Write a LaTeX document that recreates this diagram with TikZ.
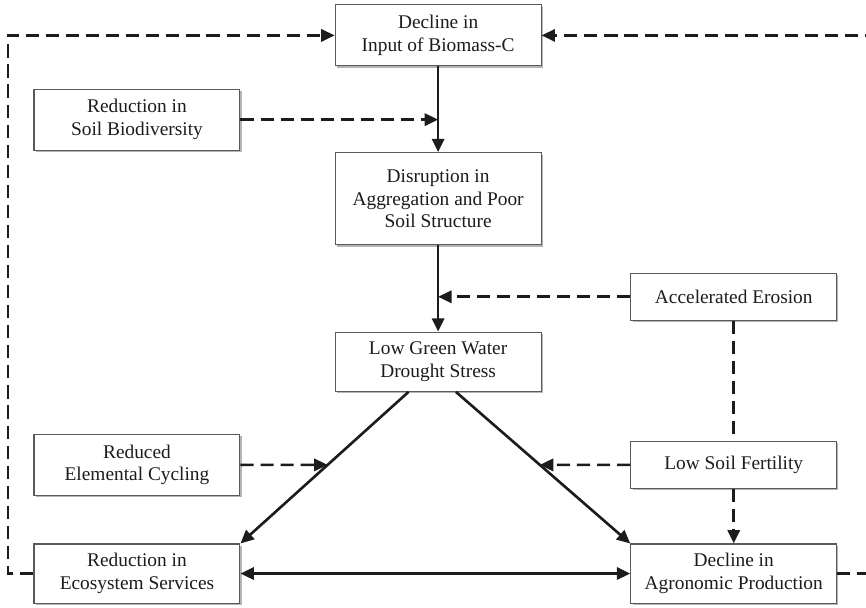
\documentclass[tikz,border=0pt]{standalone}
\usepackage{fontspec}
\setmainfont{Liberation Serif}
\usetikzlibrary{calc,positioning,arrows.meta,shadows,intersections}
\definecolor{ink}{HTML}{1C1C1C}
\definecolor{rim}{HTML}{5A5A5A}
\definecolor{shade}{HTML}{B4B4B4}
\tikzset{
  cbx/.style={draw=rim,line width=0.8pt,fill=white,text=ink,align=center,minimum width=5.23cm,minimum height=#1,
    general shadow={fill=shade,shadow xshift=1.3pt,shadow yshift=-1.3pt}},
  flow/.style={-{Triangle[length=3.4mm,width=3.1mm]},ink,line width=1.9pt},
  flow2/.style={{Triangle[length=3.4mm,width=3.1mm]}-{Triangle[length=3.4mm,width=3.1mm]},ink,line width=1.9pt},
  dflow/.style={-{Triangle[length=3.4mm,width=3.1mm]},ink,line width=1.9pt,dash pattern=on 9.5pt off 5pt},
  dline/.style={ink,line width=1.9pt,dash pattern=on 9.5pt off 5pt},
}

\begin{document}
\begin{tikzpicture}[font=\fontsize{14}{16.5}\selectfont]
\useasboundingbox (0,0) rectangle (22,15.44);
\node[cbx=1.55cm] (top) at (11.13,14.54) {Decline in\\Input of Biomass-C};
\node[cbx=1.55cm] (bio) at (3.48,12.40)  {Reduction in\\Soil Biodiversity};
\node[cbx=2.34cm] (dis) at (11.13,10.39) {Disruption in\\Aggregation and Poor\\Soil Structure};
\node[cbx=1.50cm] (low) at (11.13,6.25)  {Low Green Water\\Drought Stress};
\node[cbx=1.19cm] (ero) at (18.64,7.90)  {Accelerated Erosion};
\node[cbx=1.55cm] (cyc) at (3.48,3.63)   {Reduced\\Elemental Cycling};
\node[cbx=1.19cm] (fert) at (18.64,3.63) {Low Soil Fertility};
\node[cbx=1.50cm] (eco) at (3.48,0.87)   {Reduction in\\Ecosystem Services};
\node[cbx=1.50cm] (agro) at (18.64,0.87) {Decline in\\Agronomic Production};
\coordinate (lft) at (0.2,0);
\coordinate (rgt) at (22.6,0);
\coordinate (dl) at ([xshift=-0.75cm]low.south);
\coordinate (dr) at ([xshift=0.45cm]low.south);
\coordinate (j1) at (bio -| top);
\coordinate (j2) at (ero -| dis);
\path[name path=ld] (dl) -- (eco.north east);
\path[name path=rd] (dr) -- (agro.north west);
\path[name path=hz] (cyc) -- (fert);
\path[name intersections={of=ld and hz,by=j3}];
\path[name intersections={of=rd and hz,by=j4}];
% main chain
\draw[flow] (top) -- (dis);
\draw[flow] (dis) -- (low);
\draw[flow] (dl) -- (eco.north east);
\draw[flow] (dr) -- (agro.north west);
\draw[flow2] (eco) -- (agro);
% side influences
\draw[dflow] (bio) -- (j1);
\draw[dflow] (ero) -- (j2);
\draw[dline] (ero) -- (fert);
\draw[dflow] (fert) -- (agro);
\draw[dflow] (cyc) -- (j3);
\draw[dflow] (fert) -- (j4);
% feedback loops
\draw[dflow] (eco.west) -- (eco.west -| lft) |- (top.west);
\draw[dflow] (agro.east) -- (agro.east -| rgt) |- (top.east);
\end{tikzpicture}
\end{document}
